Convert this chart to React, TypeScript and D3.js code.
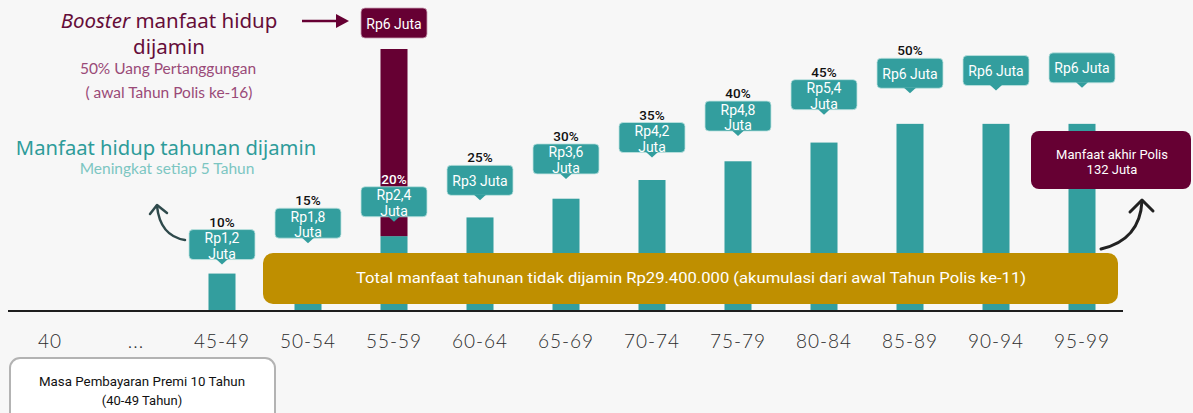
import React from "react";
import * as d3 from "d3";

const categories = ["40", "...", "45-49", "50-54", "55-59", "60-64", "65-69", "70-74", "75-79", "80-84", "85-89", "90-94", "95-99"];
const benefitValues: (number | null)[] = [null, null, 1.2, 1.8, 2.4, 3.0, 3.6, 4.2, 4.8, 5.4, 6, 6, 6];
const benefitLabels: (string[] | null)[] = [
  null, null,
  ["Rp1,2", "Juta"], ["Rp1,8", "Juta"], ["Rp2,4", "Juta"], ["Rp3 Juta"], ["Rp3,6", "Juta"],
  ["Rp4,2", "Juta"], ["Rp4,8", "Juta"], ["Rp5,4", "Juta"], ["Rp6 Juta"], ["Rp6 Juta"], ["Rp6 Juta"],
];
const percentLabels: (string | null)[] = [null, null, "10%", "15%", "20%", "25%", "30%", "35%", "40%", "45%", "50%", null, null];
const boosterCategory = "55-59";
const boosterValue = 6;
const boosterLabel = "Rp6 Juta";
const endBenefitLines = ["Manfaat akhir Polis", "132 Juta"];
const totalText = "Total manfaat tahunan tidak dijamin Rp29.400.000 (akumulasi dari awal Tahun Polis ke-11)";
const premiumLines = ["Masa Pembayaran Premi 10 Tahun", "(40-49 Tahun)"];

const W = 1193;
const H = 413;
const TEAL = "#339e9e";
const MAGENTA = "#660033";
const GOLD = "#bf8f00";
const LABEL_FONT = "Roboto, 'Noto Sans', sans-serif";

export default function App() {
  const x = d3.scaleBand<string>().domain(categories).range([7, 1125]).paddingInner(0.686).paddingOuter(0.343);
  const y = d3.scaleLinear().domain([0, 8.4]).range([311, 49]);
  const bw = x.bandwidth();
  const cx = (c: string) => (x(c) as number) + bw / 2;

  const boxW = 66;
  const boxH = 30;
  const tipH = 5;

  const items = categories.map((c, i) => ({ c, v: benefitValues[i], lab: benefitLabels[i], pct: percentLabels[i], i }))
    .filter((d) => d.v != null);

  return (
    <svg width={W} height={H} style={{ position: "absolute", left: 0, top: 0 }} xmlns="http://www.w3.org/2000/svg">
      <rect x={0} y={0} width={W} height={H} fill="#f7f7f7" />

      {/* bars */}
      {items.map((d) => (
        <rect key={"b" + d.c} x={x(d.c)} y={y(d.v as number)} width={bw} height={y(0) - y(d.v as number)} fill={TEAL} />
      ))}
      {/* booster */}
      {(() => {
        const base = benefitValues[categories.indexOf(boosterCategory)] as number;
        return (
          <rect x={x(boosterCategory)} y={y(base + boosterValue)} width={bw} height={y(base) - y(base + boosterValue)} fill={MAGENTA} />
        );
      })()}

      {/* axis */}
      <line x1={8} x2={1123} y1={y(0)} y2={y(0)} stroke="#1e1e1e" strokeWidth={2} />
      {categories.map((c) => (
        <text key={"t" + c} x={cx(c)} y={340} textAnchor="middle" dominantBaseline="central"
          fontFamily="Lato, 'Open Sans', sans-serif" fontWeight={300} fontSize={19} letterSpacing={1} fill="#2b2b2b">
          {c}
        </text>
      ))}

      {/* callout boxes */}
      {items.map((d, k) => {
        const gap = 9 + 2.7 * k;
        const tip = y(d.v as number) - gap;
        const top = tip - tipH - boxH;
        const c = cx(d.c);
        const lines = d.lab as string[];
        return (
          <g key={"l" + d.c}>
            <rect x={c - boxW / 2} y={top} width={boxW} height={boxH} rx={4} fill={TEAL} stroke="#bfe3e1" strokeWidth={0.8} />
            <path d={`M${c - 6},${top + boxH - 0.5} L${c},${tip} L${c + 6},${top + boxH - 0.5} Z`} fill={TEAL} />
            {lines.length === 1 ? (
              <text x={c} y={top + boxH / 2 + 0.5} textAnchor="middle" dominantBaseline="central" fill="#fff" fontFamily={LABEL_FONT} fontSize={14}>{lines[0]}</text>
            ) : (
              lines.map((t, j) => (
                <text key={j} x={c} y={top + 8.5 + j * 15.5} textAnchor="middle" dominantBaseline="central" fill="#fff" fontFamily={LABEL_FONT} fontSize={14}>{t}</text>
              ))
            )}
            {d.pct && (
              <text x={c} y={top - 8} textAnchor="middle" dominantBaseline="central"
                fill={d.c === boosterCategory ? "#fff" : "#111"} fontFamily={LABEL_FONT} fontWeight={500} fontSize={13.5}>{d.pct}</text>
            )}
          </g>
        );
      })}

      {/* booster label box */}
      <rect x={cx(boosterCategory) - 33} y={8} width={66} height={30} rx={4} fill={MAGENTA} stroke="#c9a0b4" strokeWidth={0.8} />
      <text x={cx(boosterCategory)} y={24} textAnchor="middle" dominantBaseline="central" fill="#fff" fontFamily={LABEL_FONT} fontSize={14}>{boosterLabel}</text>
      <line x1={302} x2={338} y1={21} y2={21} stroke={MAGENTA} strokeWidth={2.5} />
      <path d="M336,14 L349,21 L336,28 Z" fill={MAGENTA} />

      {/* titles */}
      <text x={169} y={20} textAnchor="middle" dominantBaseline="central" fontFamily="'Noto Sans', sans-serif" fontSize={20.5} fill="#650d39">
        <tspan fontStyle="italic">Booster</tspan> manfaat hidup
      </text>
      <text x={169} y={46} textAnchor="middle" dominantBaseline="central" fontFamily="'Noto Sans', sans-serif" fontSize={20.5} fill="#650d39">dijamin</text>
      <text x={168} y={68} textAnchor="middle" dominantBaseline="central" fontFamily="Lato, sans-serif" fontSize={15.5} fill="#9a4a78">50% Uang Pertanggungan</text>
      <text x={169} y={92} textAnchor="middle" dominantBaseline="central" fontFamily="Lato, sans-serif" fontSize={15.5} fill="#9a4a78">( awal Tahun Polis ke-16)</text>
      <text x={166} y={147} textAnchor="middle" dominantBaseline="central" fontFamily="'Noto Sans', sans-serif" fontSize={20.2} fill="#2e9c9a">Manfaat hidup tahunan dijamin</text>
      <text x={167} y={168} textAnchor="middle" dominantBaseline="central" fontFamily="Lato, sans-serif" fontSize={15.5} fill="#7cc6c2">Meningkat setiap  5 Tahun</text>

      {/* left curved arrow */}
      <path d="M185,240 Q160,236 157,206" fill="none" stroke="#2f4a4c" strokeWidth={2.5} strokeLinecap="round" />
      <path d="M150,214 L157,205 L167,213" fill="none" stroke="#2f4a4c" strokeWidth={2.5} strokeLinecap="round" strokeLinejoin="round" />

      {/* gold band */}
      <rect x={263} y={253} width={855} height={51} rx={10} fill={GOLD} />
      <text x={691} y={278} textAnchor="middle" dominantBaseline="central" fill="#fff" fontFamily={LABEL_FONT} fontSize={15}
        textLength={670} lengthAdjust="spacingAndGlyphs">{totalText}</text>

      {/* end benefit box */}
      <rect x={1031} y={131} width={160} height={58} rx={8} fill={MAGENTA} />
      {endBenefitLines.map((t, j) => (
        <text key={j} x={1112} y={154 + j * 15.5} textAnchor="middle" dominantBaseline="central" fill="#fff" fontFamily={LABEL_FONT} fontSize={13}>{t}</text>
      ))}
      <path d="M1101,249 Q1140,240 1142,201" fill="none" stroke="#222" strokeWidth={3} strokeLinecap="round" />
      <path d="M1130,212 L1142,200 L1153,211" fill="none" stroke="#222" strokeWidth={3} strokeLinecap="round" strokeLinejoin="round" />

      {/* premium period box */}
      <rect x={10} y={358} width={265} height={70} rx={10} fill="#fff" stroke="#b3b3b3" strokeWidth={2} />
      <text x={142} y={381} textAnchor="middle" dominantBaseline="central" fill="#111" fontFamily={LABEL_FONT} fontSize={13}
        textLength={206} lengthAdjust="spacingAndGlyphs">{premiumLines[0]}</text>
      <text x={142} y={400} textAnchor="middle" dominantBaseline="central" fill="#111" fontFamily={LABEL_FONT} fontSize={13}>{premiumLines[1]}</text>
    </svg>
  );
}
